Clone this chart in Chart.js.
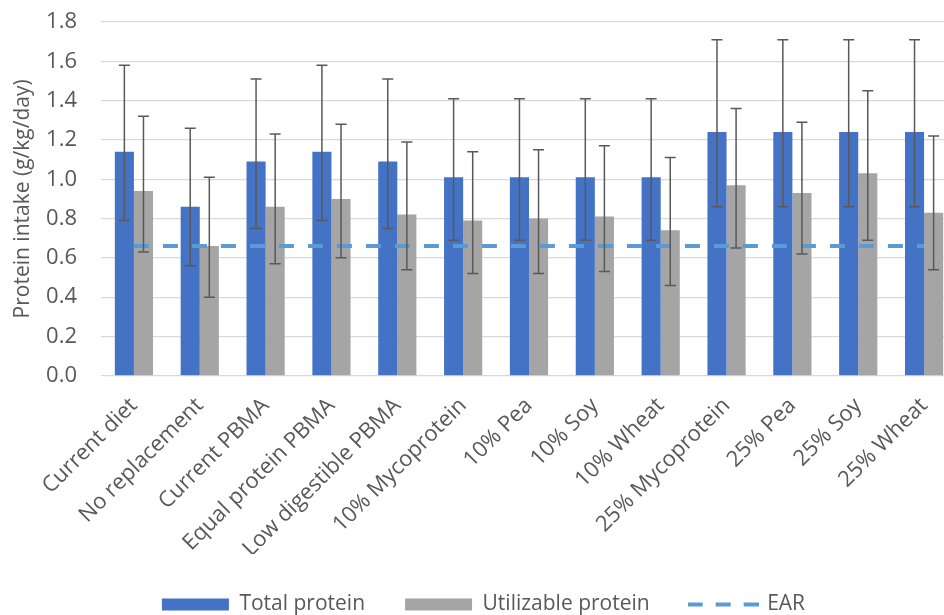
<!DOCTYPE html>
<html>
<head>
<meta charset="utf-8">
<script src="https://cdn.jsdelivr.net/npm/chart.js@4.4.0/dist/chart.umd.min.js"></script>
<style>
  html, body { margin: 0; padding: 0; background: #fff; overflow: hidden; }
  #wrap { width: 960px; height: 615px; }
</style>
</head>
<body>
<div id="wrap"><canvas id="proteinChart"></canvas></div>
<script>
// ===== DATA =====
const scenarios = [
    "Current diet", "No replacement", "Current PBMA", "Equal protein PBMA",
    "Low digestible PBMA", "10% Mycoprotein", "10% Pea", "10% Soy", "10% Wheat",
    "25% Mycoprotein", "25% Pea", "25% Soy", "25% Wheat"
];
const totalProtein = [1.14, 0.86, 1.09, 1.14, 1.09, 1.01, 1.01, 1.01, 1.01, 1.24, 1.24, 1.24, 1.24];
const totalLow     = [0.79, 0.56, 0.75, 0.79, 0.75, 0.69, 0.69, 0.69, 0.69, 0.86, 0.86, 0.86, 0.86];
const totalHigh    = [1.58, 1.26, 1.51, 1.58, 1.51, 1.41, 1.41, 1.41, 1.41, 1.71, 1.71, 1.71, 1.71];
const utilProtein  = [0.94, 0.66, 0.86, 0.90, 0.82, 0.79, 0.80, 0.81, 0.74, 0.97, 0.93, 1.03, 0.83];
const utilLow      = [0.63, 0.40, 0.57, 0.60, 0.54, 0.52, 0.52, 0.53, 0.46, 0.65, 0.62, 0.69, 0.54];
const utilHigh     = [1.32, 1.01, 1.23, 1.28, 1.19, 1.14, 1.15, 1.17, 1.11, 1.36, 1.29, 1.45, 1.22];
const earLevel     = 0.66;
const yTicks       = [0.0, 0.2, 0.4, 0.6, 0.8, 1.0, 1.2, 1.4, 1.6, 1.8];

const TEXT = "#595959";
const FONT = "'Open Sans', sans-serif";
const EAR_COLOR = "#5B9BD5";

// small dashed-line swatch for the EAR legend entry
function dashedSwatch() {
    const c = document.createElement("canvas");
    c.width = 71;
    c.height = 6;
    const g = c.getContext("2d");
    g.strokeStyle = EAR_COLOR;
    g.lineWidth = 4;
    g.setLineDash([15, 13]);
    g.beginPath();
    g.moveTo(0, 3);
    g.lineTo(71, 3);
    g.stroke();
    return c;
}

// error bars drawn on top of each bar, using the chart's own scales
const errorBars = {
    id: "errorBars",
    afterDatasetsDraw(chart) {
        const ranges = [[totalLow, totalHigh], [utilLow, utilHigh]];
        const y = chart.scales.y;
        const c = chart.ctx;
        c.save();
        c.strokeStyle = "#595959";
        c.lineWidth = 1.5;
        ranges.forEach(([lo, hi], dsIndex) => {
            const meta = chart.getDatasetMeta(dsIndex);
            meta.data.forEach((bar, i) => {
                const top = y.getPixelForValue(hi[i]);
                const bot = y.getPixelForValue(lo[i]);
                c.beginPath();
                c.moveTo(bar.x, top); c.lineTo(bar.x, bot);
                c.moveTo(bar.x - 5.5, top); c.lineTo(bar.x + 5.5, top);
                c.moveTo(bar.x - 5.5, bot); c.lineTo(bar.x + 5.5, bot);
                c.stroke();
            });
        });
        c.restore();
    }
};

const ctx = document.getElementById("proteinChart").getContext("2d");
const chart = new Chart(ctx, {
    type: "bar",
    data: {
        labels: scenarios,
        datasets: [{
            label: "Total protein",
            data: totalProtein,
            backgroundColor: "#4472C4",
            borderWidth: 0,
            pointStyle: "rect",
            order: 1,
            categoryPercentage: 0.58,
            barPercentage: 1.0
        }, {
            label: "Utilizable protein",
            data: utilProtein,
            backgroundColor: "#A5A5A5",
            borderWidth: 0,
            pointStyle: "rect",
            order: 1,
            categoryPercentage: 0.58,
            barPercentage: 1.0
        }, {
            type: "line",
            label: "EAR",
            data: scenarios.map(() => earLevel),
            borderColor: EAR_COLOR,
            backgroundColor: EAR_COLOR,
            borderWidth: 4,
            borderDash: [15, 14],
            pointRadius: 0,
            pointStyle: dashedSwatch(),
            order: 0
        }]
    },
    options: {
        responsive: true,
        maintainAspectRatio: false,
        animation: false,
        layout: { padding: { left: 10, right: 3, top: 22, bottom: -10 } },
        scales: {
            x: {
                grid: { display: false },
                border: { display: false },
                afterFit: axis => { axis.height -= 17; },
                ticks: {
                    color: TEXT,
                    font: { family: FONT, size: 22 },
                    minRotation: 45,
                    maxRotation: 45,
                    padding: 9,
                    autoSkip: false
                }
            },
            y: {
                min: 0,
                max: 1.8,
                afterBuildTicks: axis => { axis.ticks = yTicks.map(v => ({ value: v })); },
                afterFit: axis => { axis.width = 91; },
                grid: {
                    color: "#D9D9D9",
                    lineWidth: 1.3,
                    drawTicks: true,
                    tickLength: 21,
                    tickColor: "rgba(0,0,0,0)"
                },
                border: { display: false },
                ticks: {
                    color: TEXT,
                    font: { family: FONT, size: 22 },
                    padding: 3,
                    callback: v => v.toFixed(1)
                },
                title: {
                    display: true,
                    text: "Protein intake (g/kg/day)",
                    color: TEXT,
                    padding: 0,
                    font: { family: FONT, size: 21 }
                }
            }
        },
        plugins: {
            legend: {
                position: "bottom",
                labels: {
                    color: TEXT,
                    font: { family: FONT, size: 21 },
                    usePointStyle: true,
                    pointStyleWidth: 67,
                    boxHeight: 12,
                    padding: 40,
                    sort: (a, b) => a.datasetIndex - b.datasetIndex
                }
            },
            tooltip: { enabled: false }
        }
    },
    plugins: [errorBars]
});
</script>
</body>
</html>
